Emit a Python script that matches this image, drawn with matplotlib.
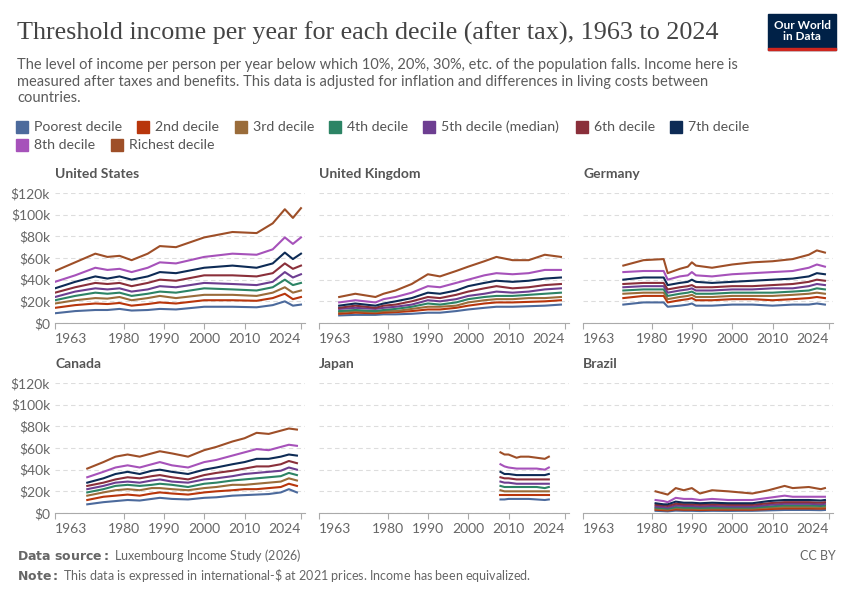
import matplotlib.pyplot as plt
from matplotlib.patches import Rectangle

plt.rcParams['font.family'] = ['Lato', 'DejaVu Sans']

deciles = ["Poorest decile", "2nd decile", "3rd decile", "4th decile", "5th decile (median)",
           "6th decile", "7th decile", "8th decile", "Richest decile"]
colors = ["#4c6a9c", "#b8360c", "#9a6c3a", "#2c8465", "#6d3e91",
          "#8a2f3a", "#0d2b55", "#a652ba", "#9e4f28"]

# values in $k, deciles from poorest to richest
us_years = [1963, 1968, 1973, 1976, 1979, 1982, 1986, 1989, 1993, 2000, 2007, 2013, 2017, 2020, 2022, 2024]
us = [
    [9, 11, 12, 12, 13, 11.5, 12, 13, 12.5, 15, 15, 14.5, 16.5, 20, 16, 17],
    [14, 16.5, 18, 17.5, 18.5, 16, 17.5, 19, 18, 21, 21, 20.5, 23, 27, 22, 24],
    [18, 21, 23, 22.5, 24, 21, 23, 25, 23, 26, 26, 25, 28, 33, 28, 30],
    [21, 25, 28, 27, 28, 25, 27, 29, 28, 32, 31, 30, 33, 40, 35, 37],
    [24, 29, 32, 31, 32, 29, 31, 34, 33, 37, 36, 35, 38, 47, 42, 45],
    [28, 33, 37, 36, 37, 34, 37, 40, 39, 44, 44, 43, 46, 55, 50, 53],
    [32, 38, 43, 41, 43, 40, 43, 47, 46, 51, 53, 51, 55, 65, 59, 64],
    [38, 44, 51, 49, 50, 47, 51, 56, 55, 61, 64, 63, 68, 79, 73, 79],
    [48, 56, 64, 61, 62, 58, 64, 71, 70, 79, 84, 83, 92, 105, 97, 106],
]

uk_years = [1968, 1972, 1977, 1979, 1982, 1986, 1990, 1993, 1997, 2000, 2004, 2007, 2011, 2015, 2019, 2023]
uk = [
    [7, 7.5, 7.5, 8, 8, 8.5, 9.5, 9.5, 11, 12.5, 14, 15, 15, 15.5, 16, 17],
    [8.5, 9.5, 9, 9.5, 10, 11, 12.5, 12.5, 14, 16, 18, 19, 19, 19.5, 20, 21],
    [10, 11, 10, 11, 11, 13, 15, 15, 16, 19, 21, 22, 22, 23, 23, 24],
    [11, 12, 11, 12, 13, 15, 18, 17, 19, 22, 24, 25, 25, 26, 27, 28],
    [13, 14, 13, 14, 15, 17, 21, 20, 22, 25, 27, 29, 28, 29, 31, 32],
    [14, 16, 14, 16, 17, 20, 24, 23, 26, 29, 32, 34, 32, 33, 35, 36],
    [16, 18, 16, 18, 20, 23, 28, 27, 30, 34, 37, 39, 38, 39, 41, 42],
    [19, 21, 19, 22, 24, 28, 34, 33, 37, 40, 44, 46, 45, 46, 49, 49],
    [24, 27, 24, 27, 30, 36, 45, 43, 48, 52, 57, 61, 58, 58, 63, 61],
]

de_years = [1973, 1978, 1983, 1984, 1987, 1989, 1990, 1991, 1995, 2000, 2005, 2010, 2015, 2019, 2021, 2023]
de = [
    [17, 19, 19, 15, 16, 17, 18, 16, 16, 17, 17, 16, 17, 17, 18, 17],
    [23, 25, 25, 19, 21, 22, 23, 21, 21, 22, 22, 21, 22, 23, 24, 23],
    [27, 28, 28, 22, 24, 25, 26, 24, 24, 25, 25, 25, 26, 27, 28, 27],
    [30, 31, 31, 25, 27, 28, 29, 27, 27, 28, 28, 28, 29, 30, 32, 31],
    [33, 34, 34, 28, 30, 31, 32, 30, 30, 31, 31, 32, 32, 34, 36, 35],
    [36, 37, 37, 31, 33, 34, 35, 33, 33, 34, 34, 35, 36, 38, 40, 39],
    [40, 42, 42, 35, 37, 38, 40, 38, 37, 38, 39, 40, 41, 43, 46, 45],
    [47, 48, 48, 40, 43, 44, 47, 44, 43, 45, 46, 47, 48, 51, 54, 52],
    [53, 58, 59, 46, 50, 52, 56, 53, 51, 54, 56, 57, 59, 63, 67, 65],
]

ca_years = [1971, 1975, 1978, 1981, 1984, 1987, 1989, 1992, 1996, 2000, 2003, 2007, 2010, 2013, 2016, 2019, 2021, 2023]
ca = [
    [8, 10, 11, 12, 11.5, 13, 14, 13, 12.5, 14, 14.5, 16, 16.5, 17, 17.5, 19, 22, 19],
    [12, 15, 16, 17, 16, 18, 19, 18, 17, 19, 20, 21, 22, 22, 23, 24, 27, 25],
    [16, 19, 21, 22, 21, 23, 23, 22, 21, 23, 24, 26, 26, 27, 28, 29, 32, 30],
    [19, 22, 25, 26, 25, 26, 27, 26, 24, 27, 28, 30, 31, 32, 33, 34, 37, 35],
    [22, 25, 28, 29, 28, 30, 31, 29, 28, 31, 32, 34, 36, 37, 38, 39, 42, 40],
    [25, 28, 31, 33, 32, 34, 35, 33, 31, 35, 37, 39, 41, 43, 43, 45, 48, 46],
    [28, 32, 36, 38, 36, 39, 40, 38, 36, 40, 42, 45, 47, 50, 50, 52, 54, 53],
    [33, 38, 42, 44, 42, 45, 47, 44, 42, 47, 49, 53, 56, 59, 58, 61, 63, 62],
    [41, 47, 52, 54, 52, 55, 57, 55, 52, 58, 61, 66, 69, 74, 73, 76, 78, 77],
]

jp_years = [2008, 2009, 2010, 2012, 2013, 2015, 2017, 2019, 2020]
jp = [
    [12.5, 12.5, 13, 13, 13, 13, 12.5, 12, 12.5],
    [17, 17, 17, 17, 17, 17, 17, 17, 17],
    [21, 20, 20, 20, 20, 20, 20, 20, 20],
    [25, 24, 24, 24, 24, 24, 24, 23, 24],
    [29, 28, 28, 27, 27, 27, 27, 27, 27],
    [33, 32, 32, 31, 31, 31, 31, 31, 31],
    [38, 36, 36, 35, 35, 35, 35, 35, 36],
    [45, 43, 42, 41, 41, 41, 41, 40, 42],
    [56, 54, 54, 51, 52, 52, 51, 50, 52],
]

br_years = [1981, 1983, 1984, 1986, 1988, 1990, 1992, 1995, 1999, 2002, 2005, 2009, 2013, 2015, 2019, 2022, 2023]
br = [
    [2, 1.7, 1.5, 2.2, 2, 2, 1.8, 2, 1.9, 2, 2, 2.4, 2.8, 2.8, 2.8, 2.6, 2.8],
    [3, 2.6, 2.4, 3.3, 3, 3, 2.8, 3, 3, 3, 3, 3.6, 4.2, 4.2, 4.2, 4, 4.2],
    [4, 3.5, 3.2, 4.5, 4, 4, 3.8, 4, 4, 4, 4, 5, 5.5, 5.5, 5.5, 5.2, 5.5],
    [5, 4.5, 4, 5.5, 5, 5, 4.8, 5, 5, 5, 5, 6, 7, 7, 7, 6.5, 7],
    [6, 5.5, 5, 7, 6.5, 6.5, 6, 6.5, 6, 6, 6, 7.5, 8.5, 8.5, 8.5, 8, 8.5],
    [7.5, 7, 6.5, 8.5, 8, 8, 7.5, 8, 7.5, 7.5, 7.5, 9, 10, 10, 10, 9.5, 10],
    [9, 8, 8, 10.5, 9.5, 9.5, 9, 9.5, 9, 9, 9, 11, 12, 12, 12, 11.5, 12],
    [12, 11, 10, 14, 13, 13, 12, 13, 12, 12, 12, 14, 16, 15, 15, 15, 15],
    [20, 18, 17, 23, 21, 23, 18, 21, 20, 19, 18, 21, 25, 23, 24, 22, 23],
]

countries = [("United States", us_years, us), ("United Kingdom", uk_years, uk), ("Germany", de_years, de),
             ("Canada", ca_years, ca), ("Japan", jp_years, jp), ("Brazil", br_years, br)]

W, H = 850, 600
fig = plt.figure(figsize=(8.5, 6), dpi=100)

def px(x, y, w, h):
    return [x / W, 1 - (y + h) / H, w / W, h / H]

lefts = [55, 319, 583]
tops = [193, 383]
for i, (name, yrs, vals) in enumerate(countries):
    r, c = divmod(i, 3)
    ax = fig.add_axes(px(lefts[c], tops[r], 250, 130))
    for k in range(9):
        ax.plot(yrs, vals[k], color=colors[k], lw=1.5)
    ax.set_xlim(1963, 2025)
    ax.set_ylim(0, 120)
    ax.set_yticks(range(0, 121, 20))
    ax.grid(axis='y', ls=(0, (4, 3)), color='#dddddd', lw=0.8)
    ax.set_axisbelow(True)
    for s in ['top', 'right', 'left']:
        ax.spines[s].set_visible(False)
    ax.spines['bottom'].set_color('#aaaaaa')
    ax.set_xticks([1963, 1980, 1990, 2000, 2010, 2024])
    ax.set_xticklabels(['1963', '1980', '1990', '2000', '2010', '2024'])
    labs = ax.get_xticklabels()
    labs[0].set_ha('left')
    labs[-1].set_ha('right')
    ax.tick_params(axis='x', colors='#aaaaaa', labelcolor='#666666', labelsize=10, length=4)
    ax.tick_params(axis='y', length=0, labelsize=10, labelcolor='#666666')
    if c == 0:
        ax.set_yticklabels(['$0'] + ['$%dk' % v for v in range(20, 121, 20)])
    else:
        ax.set_yticklabels([])
    fig.text((lefts[c]) / W, 1 - (tops[r] - 19) / H, name, fontsize=10, fontweight='bold',
             color='#555555', va='center')

fig.text(17 / W, 1 - 33 / H, "Threshold income per year for each decile (after tax), 1963 to 2024",
         family=['Liberation Serif', 'DejaVu Serif'], fontsize=18.8, color='#444444', va='center')
fig.text(17 / W, 1 - 58 / H,
         "The level of income per person per year below which 10%, 20%, 30%, etc. of the population falls. Income here is\n"
         "measured after taxes and benefits. This data is adjusted for inflation and differences in living costs between\n"
         "countries.", fontsize=10.5, color='#5b5b5b', va='top', linespacing=1.25)

# logo
fig.patches.append(Rectangle((768 / W, 1 - 50 / H), 68 / W, 36 / H, transform=fig.transFigure,
                             color='#002147'))
fig.patches.append(Rectangle((768 / W, 1 - 50 / H), 68 / W, 2.5 / H, transform=fig.transFigure,
                             color='#ce261e'))
fig.text(802 / W, 1 - 31 / H, "Our World\nin Data", color='white', fontsize=8.5, fontweight='bold',
         ha='center', va='center', linespacing=1.0)

# legend
leg_pos = [(16, 127), (137, 127), (235, 127), (329, 127), (423, 127), (576, 127), (670, 127),
           (16, 145), (111, 145)]
for k, (x, y) in enumerate(leg_pos):
    fig.patches.append(Rectangle((x / W, 1 - (y + 6) / H), 12 / W, 12 / H, transform=fig.transFigure,
                                 color=colors[k]))
    fig.text((x + 18) / W, 1 - y / H, deciles[k], fontsize=10.2, color='#555555', va='center')

fig.text(17 / W, 1 - 556 / H, r"$\bf{Data\ source:}$ Luxembourg Income Study (2026)",
         fontsize=9, color='#666666', va='center')
fig.text(17 / W, 1 - 576 / H, r"$\bf{Note:}$ This data is expressed in international-\$ at 2021 prices. Income has been equivalized.",
         fontsize=9, color='#666666', va='center')
fig.text(836 / W, 1 - 556 / H, "CC BY", fontsize=9, color='#666666', va='center', ha='right')

fig.savefig("out.png", dpi=100)
